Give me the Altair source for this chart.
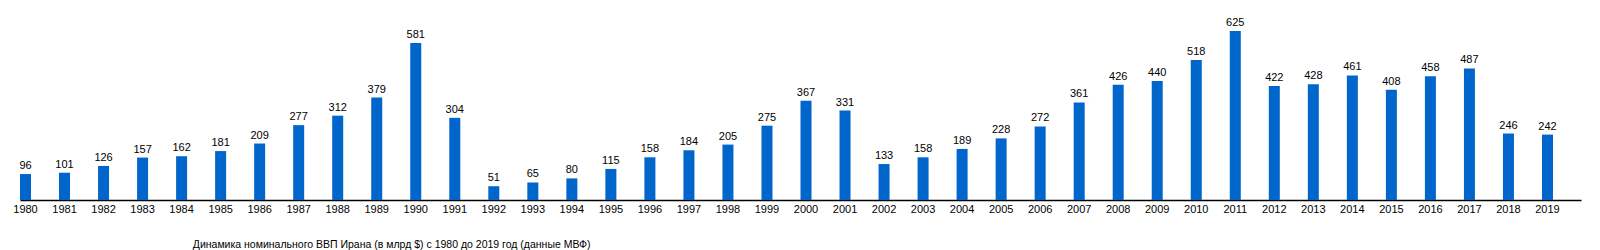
import altair as alt
import pandas as pd

years = [str(y) for y in range(1980, 2020)]
values = [96, 101, 126, 157, 162, 181, 209, 277, 312, 379,
          581, 304, 51, 65, 80, 115, 158, 184, 205, 275,
          367, 331, 133, 158, 189, 228, 272, 361, 426, 440,
          518, 625, 422, 428, 461, 408, 458, 487, 246, 242]
title_text = "Динамика номинального ВВП Ирана (в млрд $) с 1980 до 2019 год (данные МВФ)"

df = pd.DataFrame({"year": years, "gdp": values})

FONT = "Liberation Sans"

x = alt.X("year:N", sort=None,
          scale=alt.Scale(paddingInner=0.718, paddingOuter=0.359, align=0),
          axis=alt.Axis(title=None, labelAngle=0, ticks=False, domainColor="black",
                        domainWidth=1.5, labelColor="black", labelFont=FONT,
                        labelFontSize=11, labelPadding=3, grid=False))
y = alt.Y("gdp:Q", scale=alt.Scale(domain=[0, 740], nice=False), axis=None)

bars = alt.Chart(df).mark_bar(color="#0066cc").encode(x=x, y=y)
labels = alt.Chart(df).mark_text(baseline="bottom", dy=-3, font=FONT, fontSize=11,
                                  color="black").encode(x=x, y=y, text="gdp:Q")

chart = (bars + labels).properties(
    width=1561, height=200,
    padding={"left": 20, "top": 0, "right": 19, "bottom": 50},
    autosize=alt.AutoSizeParams(type="none"),
    title=alt.TitleParams(title_text, orient="bottom", anchor="start", dx=180,
                          offset=26, font=FONT, fontSize=10.5, fontWeight="normal",
                          color="black"),
).configure_view(stroke=None)

chart.save("out.html", embed_options={"renderer": "svg", "actions": False})
